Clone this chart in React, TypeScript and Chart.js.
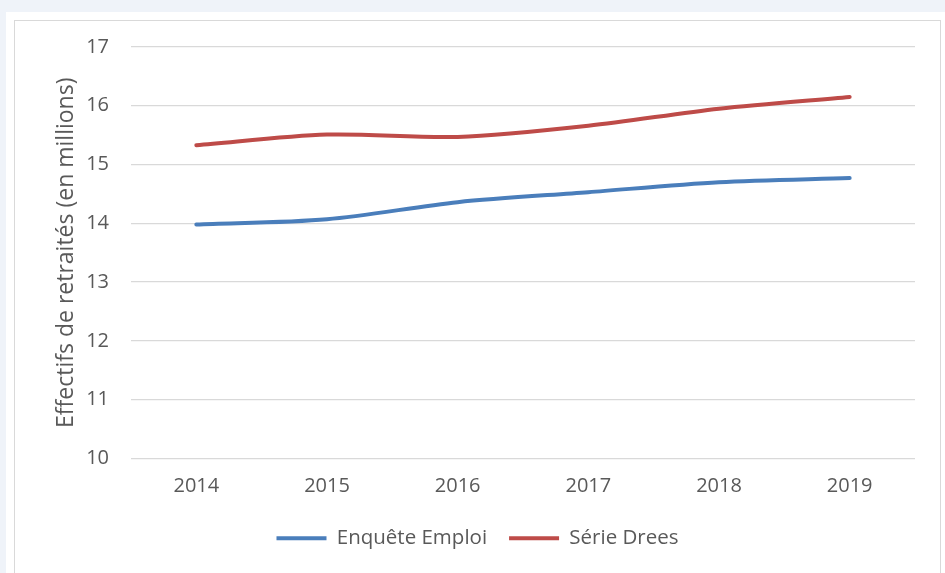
import React, { useEffect, useRef } from "react";
import { Chart, registerables } from "chart.js";

Chart.register(...registerables);

const years = ["2014", "2015", "2016", "2017", "2018", "2019"];
const enqueteEmploi = [13.98, 14.07, 14.36, 14.53, 14.7, 14.77];
const serieDrees = [15.33, 15.51, 15.47, 15.66, 15.95, 16.15];
const yMin = 10;
const yMax = 17;
const yStep = 1;
const yTitle = "Effectifs de retraités (en millions)";
const seriesNames = ["Enquête Emploi", "Série Drees"];

const FONT = "'Open Sans', 'Noto Sans', sans-serif";
const TEXT = "#595959";

export default function App() {
  const ref = useRef<HTMLCanvasElement | null>(null);

  useEffect(() => {
    if (!ref.current) return;
    const chart = new Chart(ref.current, {
      type: "line",
      data: {
        labels: years,
        datasets: [
          {
            label: seriesNames[0],
            data: enqueteEmploi,
            borderColor: "#4a7ebb",
            backgroundColor: "#4a7ebb",
            borderWidth: 4,
            borderCapStyle: "round",
            pointRadius: 0,
            tension: 0.3,
          },
          {
            label: seriesNames[1],
            data: serieDrees,
            borderColor: "#be4b48",
            backgroundColor: "#be4b48",
            borderWidth: 4,
            borderCapStyle: "round",
            pointRadius: 0,
            tension: 0.3,
          },
        ],
      },
      options: {
        responsive: false,
        animation: false,
        layout: { padding: { left: 40, right: 30, top: 47, bottom: 14.5 } },
        plugins: {
          tooltip: { enabled: false },
          legend: {
            position: "bottom",
            labels: {
              usePointStyle: true,
              pointStyle: "line",
              pointStyleWidth: 50,
              padding: 22,
              color: TEXT,
              font: { family: FONT, size: 20.5 },
            },
          },
        },
        scales: {
          x: {
            offset: true,
            grid: { display: false, drawTicks: false },
            border: { display: false },
            ticks: { color: TEXT, font: { family: FONT, size: 20 }, padding: 16, maxRotation: 0 },
            afterFit: (s: any) => {
              s.height = 47.5;
            },
          },
          y: {
            min: yMin,
            max: yMax,
            grid: { color: "#d9d9d9", lineWidth: 1.3, drawTicks: false },
            border: { display: false },
            ticks: { stepSize: yStep, color: TEXT, font: { family: FONT, size: 20 }, padding: 22 },
            title: {
              display: true,
              text: yTitle,
              color: TEXT,
              font: { family: FONT, size: 23 },
              padding: { top: 13, bottom: 0 },
            },
            afterFit: (s: any) => {
              s.width = 91;
            },
          },
        },
      },
    });
    return () => chart.destroy();
  }, []);

  return (
    <div style={{ position: "fixed", left: 0, top: 0, width: 945, height: 573, background: "#eff3f9", overflow: "hidden" }}>
      <div style={{ position: "absolute", left: 6, top: 12, width: 939, height: 561, background: "#ffffff" }} />
      <div
        style={{
          position: "absolute",
          left: 14,
          top: 20,
          width: 927,
          height: 600,
          border: "1px solid #d9d9d9",
          boxSizing: "border-box",
        }}
      />
      <canvas ref={ref} width={945} height={573} style={{ position: "absolute", left: 0, top: 0, width: 945, height: 573 }} />
    </div>
  );
}
